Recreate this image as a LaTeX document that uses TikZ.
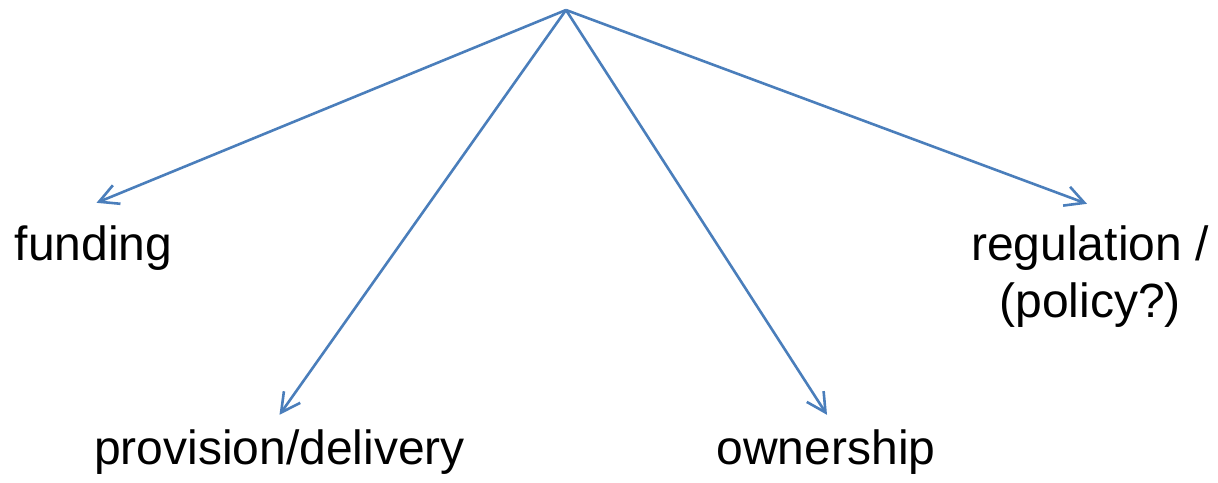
\documentclass[tikz,border=0pt]{standalone}
\usepackage{fontspec}
\setmainfont{Liberation Sans}
\usetikzlibrary{arrows.meta}

\definecolor{lineblue}{RGB}{74,126,187}

\tikzset{
    branch/.style={lineblue, line width=1.3pt, -{Straight Barb[length=9.5pt,width=10pt,line width=1.3pt]}},
    label/.style={inner sep=0pt, anchor=base, align=center, font=\fontsize{24}{28.5}\selectfont}
}

\begin{document}
\begin{tikzpicture}[x=0.5pt, y=-0.5pt]
            \useasboundingbox (0,0) rectangle (1218,482);

            \coordinate (apex) at (566,10);

            \node[label] (fund) at (93.5,260) {funding};
            \node[label] (prov) at (279.5,464) {provision/delivery};
            \node[label] (own) at (826,464) {ownership};
            \node[label] (reg) at (1090,317) {regulation /\\(policy?)};

            \draw[branch] (apex) -- ([xshift=1.5pt, yshift=11pt]fund.north);
            \draw[branch] (apex) -- ([yshift=7pt]prov.north);
            \draw[branch] (apex) -- ([xshift=0.5pt, yshift=7pt]own.north);
            \draw[branch] (apex) -- ([xshift=-1.5pt, yshift=10.5pt]reg.north);
        \end{tikzpicture}
\end{document}
